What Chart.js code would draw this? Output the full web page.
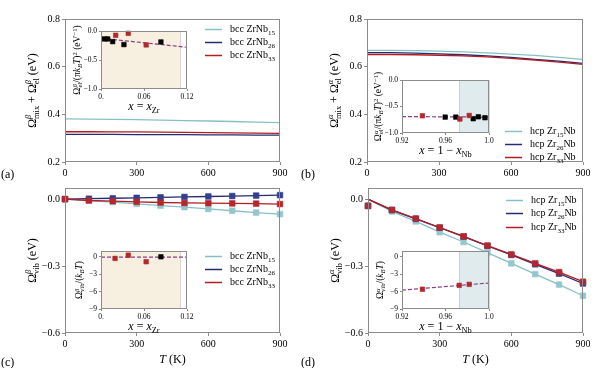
<!DOCTYPE html>
<html>
<head>
<meta charset="utf-8">
<script src="https://cdn.jsdelivr.net/npm/chart.js@4.4.0/dist/chart.umd.min.js"></script>
<style>
  body { margin: 0; background: #fff; width: 600px; height: 368px; position: relative; overflow: hidden; }
  canvas { position: absolute; }
</style>
</head>
<body>
<script>
// Data
const temps = [0, 100, 200, 300, 400, 500, 600, 700, 800, 900];
const tTicks = [0, 300, 600, 900];
const tLabels = ['0', '300', '600', '900'];

// (a) bcc mixing + electronic
const bccMix15 = [0.381, 0.380, 0.379, 0.378, 0.376, 0.374, 0.372, 0.370, 0.367, 0.365];
const bccMix26 = [0.316, 0.316, 0.316, 0.315, 0.315, 0.315, 0.314, 0.314, 0.313, 0.313];
const bccMix33 = [0.327, 0.327, 0.326, 0.326, 0.325, 0.324, 0.323, 0.322, 0.321, 0.320];
// (b) hcp mixing + electronic
const hcpMix15 = [0.668, 0.668, 0.667, 0.665, 0.662, 0.658, 0.653, 0.647, 0.639, 0.631];
const hcpMix26 = [0.659, 0.659, 0.657, 0.654, 0.650, 0.645, 0.639, 0.631, 0.623, 0.614];
const hcpMix33 = [0.651, 0.651, 0.650, 0.648, 0.645, 0.641, 0.635, 0.628, 0.619, 0.610];
const mixTicks = [0.2, 0.4, 0.6, 0.8];
const mixLabels = ['0.2', '0.4', '0.6', '0.8'];
// (c) bcc vibrational
const bccVib15 = [0, -0.006, -0.013, -0.021, -0.029, -0.036, -0.044, -0.052, -0.060, -0.067];
const bccVib26 = [0, 0.002, 0.004, 0.006, 0.008, 0.010, 0.012, 0.014, 0.016, 0.018];
const bccVib33 = [0, -0.006, -0.009, -0.012, -0.015, -0.017, -0.018, -0.019, -0.020, -0.022];
// (d) hcp vibrational: markers and fitted lines
const hcpVib15 = [-0.03, -0.055, -0.100, -0.148, -0.192, -0.240, -0.288, -0.336, -0.383, -0.433];
const hcpVib26 = [-0.03, -0.049, -0.088, -0.128, -0.168, -0.210, -0.250, -0.292, -0.334, -0.378];
const hcpVib33 = [-0.03, -0.048, -0.087, -0.127, -0.167, -0.208, -0.248, -0.288, -0.327, -0.370];
const hcpLine15 = [0, -0.055, -0.100, -0.148, -0.192, -0.240, -0.288, -0.336, -0.383, -0.433];
const hcpLine26 = [0, -0.049, -0.088, -0.128, -0.168, -0.210, -0.250, -0.292, -0.334, -0.378];
const hcpLine33 = [0, -0.048, -0.087, -0.127, -0.167, -0.208, -0.248, -0.288, -0.327, -0.370];
const vibTicks = [0, -0.3, -0.6];
const vibLabels = ['0.0', '\u22120.3', '\u22120.6'];

const bccNames = ['bcc ZrNb_{15}', 'bcc ZrNb_{26}', 'bcc ZrNb_{33}'];
const hcpNames = ['hcp Zr_{15}Nb', 'hcp Zr_{26}Nb', 'hcp Zr_{33}Nb'];

// insets
const zrTicks = [0, 0.06, 0.12];
const zrLabels = ['0.', '0.06', '0.12'];
const nbTicks = [0.92, 0.96, 1.0];
const nbLabels = ['0.92', '0.96', '1.0'];
const elTicks = [0, -0.5, -1.0];
const elLabels = ['0.0', '\u22120.5', '\u22121.0'];
const vibInTicks = [0, -3, -6, -9];
const vibInLabels = ['0', '\u22123', '\u22126', '\u22129'];

const insAblackX = [0.0047, 0.0093, 0.0163, 0.032, 0.0836];
const insAblackY = [-0.137, -0.137, -0.183, -0.234, -0.189];
const insAredX = [0.0205, 0.038, 0.063];
const insAredY = [-0.074, -0.04, -0.24];
const insAfitX = [0, 0.12];
const insAfitY = [-0.126, -0.28];

const insBblackX = [0.9597, 0.9695, 0.9855, 0.9902, 0.9963];
const insBblackY = [-0.70, -0.70, -0.731, -0.694, -0.712];
const insBredX = [0.9388, 0.9732, 0.9818];
const insBredY = [-0.675, -0.737, -0.669];
const insBfitX = [0.92, 1.0];
const insBfitY = [-0.69, -0.70];

const insCblackX = [0.0836];
const insCblackY = [0.0];
const insCredX = [0.0196, 0.038, 0.063];
const insCredY = [-0.28, 0.28, -0.85];
const insCfitX = [0, 0.12];
const insCfitY = [-0.05, -0.05];

const insDblackX = [];
const insDblackY = [];
const insDredX = [0.9388, 0.9726, 0.9818];
const insDredY = [-5.59, -4.92, -4.75];
const insDfitX = [0.92, 1.0];
const insDfitY = [-5.75, -4.52];

// Styles
const SERIF = '"Liberation Serif", "DejaVu Serif", serif';
Chart.defaults.font.family = SERIF;
Chart.defaults.color = '#000';
const GRAY = '#8c8c8c';
const TEAL = '#86c0c6', NAVY = '#262a72', RED = '#b31d22';
const TEAL_M = '#94c6cd', NAVY_M = '#34408f', RED_M = '#b3282d';
const PURPLE = '#8b3d8b';
const WHEAT = '#f7efdf', ICE = '#e0ebee';

function place(x, y, w, h) {
  const c = document.createElement('canvas');
  c.width = w; c.height = h;
  c.style.left = x + 'px'; c.style.top = y + 'px';
  c.style.width = w + 'px'; c.style.height = h + 'px';
  document.body.appendChild(c);
  return c;
}

// tiny math text: ^{..} sup, _{..} sub, *..* italic
function parseMath(s) {
  const runs = [];
  let i = 0, it = false;
  while (i < s.length) {
    const c = s[i];
    if ((c === '^' || c === '_') && s[i + 1] === '{') {
      const end = s.indexOf('}', i);
      const lvl = c === '^' ? 1 : -1;
      s.slice(i + 2, end).split('*').forEach((seg, k) => { if (seg) runs.push({ t: seg, it: k % 2 === 1, lvl }); });
      i = end + 1;
      continue;
    }
    if (c === '*') { it = !it; i++; continue; }
    const last = runs[runs.length - 1];
    if (last && last.lvl === 0 && last.it === it) last.t += c; else runs.push({ t: c, it, lvl: 0 });
    i++;
  }
  return runs;
}

function runMath(ctx, runs, size, x, y, draw) {
  let cx = x, gStart = 0, gEnd = 0, prev = 0;
  for (const r of runs) {
    const sz = r.lvl ? size * 0.7 : size;
    ctx.font = (r.it ? 'italic ' : '') + sz + 'px ' + SERIF;
    if (r.lvl === 0) { if (prev !== 0) cx = gEnd; }
    else if (prev === 0) { gStart = cx; gEnd = cx; }
    else if (prev !== r.lvl) cx = gStart;
    const w = ctx.measureText(r.t).width;
    if (draw) ctx.fillText(r.t, cx, y + (r.lvl > 0 ? -size * 0.38 : r.lvl < 0 ? size * 0.24 : 0));
    cx += w;
    if (r.lvl) gEnd = Math.max(gEnd, cx);
    prev = r.lvl;
  }
  if (prev !== 0) cx = gEnd;
  return cx - x;
}

function drawMath(ctx, s, x, y, size, align, rot) {
  const runs = parseMath(s);
  ctx.save();
  ctx.translate(x, y);
  if (rot) ctx.rotate(rot);
  ctx.fillStyle = '#000'; ctx.textBaseline = 'alphabetic'; ctx.textAlign = 'left';
  const w = runMath(ctx, runs, size, 0, 0, false);
  runMath(ctx, runs, size, align === 'left' ? 0 : -w / 2, size * 0.33, true);
  ctx.restore();
}

function drawLegend(ctx, names, colors, x1, x2, tx, rows) {
  names.forEach((n, i) => {
    ctx.strokeStyle = colors[i]; ctx.lineWidth = 1.5;
    ctx.beginPath(); ctx.moveTo(x1, rows[i] + 0.5); ctx.lineTo(x2, rows[i] + 0.5); ctx.stroke();
    drawMath(ctx, n, tx, rows[i], 10, 'left', 0);
  });
}

function scaleOpts(o) {
  return {
    type: 'linear', min: o.min, max: o.max,
    afterBuildTicks: s => { s.ticks = o.ticks.map(v => ({ value: v })); },
    afterFit: s => {
      if (s.isHorizontal()) { s.height = o.fit; s.paddingLeft = 0; s.paddingRight = 0; }
      else { s.width = o.fit; s.paddingTop = 0; s.paddingBottom = 0; }
    },
    grid: { display: true, drawOnChartArea: false, drawTicks: true, tickLength: o.len, color: GRAY, lineWidth: 1 },
    border: { display: false },
    ticks: { autoSkip: false, maxRotation: 0, padding: o.pad, font: { size: o.size }, color: '#000',
      callback: (v, i) => o.labels[i] }
  };
}

function deco(cfg) {
  return {
    id: 'deco',
    beforeDraw(chart) {
      const { ctx, chartArea: a } = chart;
      ctx.save();
      if (cfg.fill) { ctx.fillStyle = '#fff'; ctx.fillRect(a.left, a.top, a.right - a.left, a.bottom - a.top); }
      if (cfg.shade) {
        const x1 = chart.scales.x.getPixelForValue(cfg.shade[0]);
        const x2 = chart.scales.x.getPixelForValue(cfg.shade[1]);
        ctx.fillStyle = cfg.shadeColor;
        ctx.fillRect(x1, a.top, x2 - x1, a.bottom - a.top);
        ctx.strokeStyle = 'rgba(150,150,150,0.35)'; ctx.lineWidth = 1;
        ctx.beginPath();
        [x1, x2].forEach(px => { ctx.moveTo(Math.round(px) + 0.5, a.top); ctx.lineTo(Math.round(px) + 0.5, a.bottom); });
        ctx.stroke();
      }
      ctx.restore();
    },
    afterDraw(chart) {
      const { ctx, chartArea: a } = chart;
      ctx.save();
      ctx.strokeStyle = GRAY; ctx.lineWidth = 1;
      ctx.strokeRect(Math.round(a.left) + 0.5, Math.round(a.top) + 0.5, Math.round(a.right - a.left) - 1, Math.round(a.bottom - a.top) - 1);
      ctx.translate(-cfg.x0, -cfg.y0);
      if (cfg.draw) cfg.draw(ctx, chart);
      ctx.restore();
    }
  };
}

function line(xs, ys, color, width, dash) {
  return { data: xs.map((x, i) => ({ x, y: ys[i] })), showLine: true, borderColor: color, borderWidth: width,
    borderDash: dash || [], pointRadius: 0, clip: false };
}
function marks(xs, ys, color, r) {
  return { data: xs.map((x, i) => ({ x, y: ys[i] })), showLine: false, pointStyle: 'rect', pointRadius: r,
    pointBackgroundColor: color, pointBorderColor: color, pointBorderWidth: 0.6, clip: false };
}
function lineMarks(ys, color, mcolor) {
  return Object.assign(line(temps, ys, color, 1.3), { pointStyle: 'rect', pointRadius: 4,
    pointBackgroundColor: mcolor, pointBorderColor: mcolor, pointBorderWidth: 0.6 });
}

function mainPanel(p) {
  const cv = place(p.x0, p.y0, 300, 184);
  const a = { l: p.x0 + p.yFit, t: p.y0 + p.padTop, r: p.x0 + 300 - p.padRight, b: p.y0 + 184 - p.xFit };
  return new Chart(cv, {
    type: 'scatter',
    data: { datasets: p.datasets },
    options: {
      responsive: false, animation: false,
      layout: { autoPadding: false, padding: { left: 0, top: p.padTop, right: p.padRight, bottom: 0 } },
      plugins: { legend: { display: false }, tooltip: { enabled: false } },
      scales: {
        x: scaleOpts({ min: 0, max: 900, ticks: tTicks, labels: tLabels, size: 10, len: 3, pad: 2, fit: p.xFit }),
        y: scaleOpts({ min: p.yMin, max: p.yMax, ticks: p.yTicks, labels: p.yLabels, size: 10, len: 3, pad: 2, fit: p.yFit })
      }
    },
    plugins: [deco({ x0: p.x0, y0: p.y0, draw: ctx => {
      drawMath(ctx, p.yTitle, a.l - 33, (a.t + a.b) / 2, 12, 'center', -Math.PI / 2);
      if (p.xTitle) drawMath(ctx, p.xTitle, (a.l + a.r) / 2, 359, 12, 'center', 0);
      drawMath(ctx, p.tag, p.x0 + 1, p.tagY, 12, 'left', 0);
      drawLegend(ctx, p.names, [TEAL, NAVY, RED], p.leg[0], p.leg[0] + 17, p.leg[0] + 25, p.leg[1]);
    } })]
  });
}

function insetPanel(p) {
  const x0 = p.l - 36, y0 = p.t - 14;
  const cv = place(x0, y0, p.r + 8 - x0, p.b + 26 - y0);
  return new Chart(cv, {
    type: 'scatter',
    data: { datasets: [
      marks(p.redX, p.redY, RED_M, 3.2),
      marks(p.blackX, p.blackY, '#000', 3.2),
      line(p.fitX, p.fitY, PURPLE, 1.2, [4, 2])
    ] },
    options: {
      responsive: false, animation: false,
      layout: { autoPadding: false, padding: { left: 0, top: 14, right: 8, bottom: 0 } },
      plugins: { legend: { display: false }, tooltip: { enabled: false } },
      scales: {
        x: scaleOpts({ min: p.xTicks[0], max: p.xTicks[2], ticks: p.xTicks, labels: p.xLabels, size: 7.5, len: 2, pad: 2, fit: 26 }),
        y: scaleOpts({ min: p.yMin, max: p.yMax, ticks: p.yTicks, labels: p.yLabels, size: 7.5, len: 2, pad: 2, fit: 36 })
      }
    },
    plugins: [deco({ x0, y0, fill: true, shade: p.shade, shadeColor: p.shadeColor, draw: ctx => {
      drawMath(ctx, p.yTitle, p.l - p.yTitleGap, (p.t + p.b) / 2, 9.5, 'center', -Math.PI / 2);
      drawMath(ctx, p.xTitle, (p.l + p.r) / 2, p.b + 17, 12, 'center', 0);
    } })]
  });
}

// main panels
mainPanel({ x0: 0, y0: 0, padTop: 19, padRight: 20, yFit: 65, xFit: 22,
  yMin: 0.2, yMax: 0.8, yTicks: mixTicks, yLabels: mixLabels,
  yTitle: '\u03A9^{*\u03B2*}_{mix} + \u03A9^{*\u03B2*}_{el} (eV)', tag: '(a)', tagY: 174,
  names: bccNames, leg: [205, [29, 42, 55]],
  datasets: [line(temps, bccMix33, RED, 1.3), line(temps, bccMix26, NAVY, 1.3), line(temps, bccMix15, TEAL, 1.3)] });

mainPanel({ x0: 300, y0: 0, padTop: 19, padRight: 17, yFit: 67, xFit: 22,
  yMin: 0.2, yMax: 0.8, yTicks: mixTicks, yLabels: mixLabels,
  yTitle: '\u03A9^{*\u03B1*}_{mix} + \u03A9^{*\u03B1*}_{el} (eV)', tag: '(b)', tagY: 174,
  names: hcpNames, leg: [505, [131, 144, 157]],
  datasets: [line(temps, hcpMix33, RED, 1.3), line(temps, hcpMix26, NAVY, 1.3), line(temps, hcpMix15, TEAL, 1.3)] });

mainPanel({ x0: 0, y0: 184, padTop: 4, padRight: 20, yFit: 65, xFit: 35,
  yMin: -0.6, yMax: 0.05, yTicks: vibTicks, yLabels: vibLabels,
  yTitle: '\u03A9^{*\u03B2*}_{vib} (eV)', xTitle: '*T* (K)', tag: '(c)', tagY: 362,
  names: bccNames, leg: [205, [256, 269, 282]],
  datasets: [lineMarks(bccVib33, RED, RED_M), lineMarks(bccVib26, NAVY, NAVY_M), lineMarks(bccVib15, TEAL, TEAL_M)] });

mainPanel({ x0: 300, y0: 184, padTop: 4, padRight: 17, yFit: 68, xFit: 35,
  yMin: -0.6, yMax: 0.05, yTicks: vibTicks, yLabels: vibLabels,
  yTitle: '\u03A9^{*\u03B1*}_{vib} (eV)', xTitle: '*T* (K)', tag: '(d)', tagY: 362,
  names: hcpNames, leg: [506, [200, 213, 227]],
  datasets: [
    marks(temps, hcpVib33, RED_M, 4), line(temps, hcpLine33, RED, 1.3),
    marks(temps, hcpVib26, NAVY_M, 4), line(temps, hcpLine26, NAVY, 1.3),
    marks(temps, hcpVib15, TEAL_M, 4), line(temps, hcpLine15, TEAL, 1.3)
  ] });

// insets
const elTitleB = '\u03A9^{*\u03B2*}_{el}/(\u03C0*k*_{*B*}*T*)^{2} (eV^{\u22121})';
const elTitleA = '\u03A9^{*\u03B1*}_{el}/(\u03C0*k*_{*B*}*T*)^{2} (eV^{\u22121})';
insetPanel({ l: 101, t: 31, r: 187, b: 89, xTicks: zrTicks, xLabels: zrLabels,
  yMin: -1, yMax: 0, yTicks: elTicks, yLabels: elLabels, shade: [0, 0.1106], shadeColor: WHEAT,
  yTitle: elTitleB, yTitleGap: 24, xTitle: '*x* = *x*_{Zr}',
  redX: insAredX, redY: insAredY, blackX: insAblackX, blackY: insAblackY, fitX: insAfitX, fitY: insAfitY });

insetPanel({ l: 402, t: 80, r: 489, b: 133, xTicks: nbTicks, xLabels: nbLabels,
  yMin: -1, yMax: 0, yTicks: elTicks, yLabels: elLabels, shade: [0.9726, 1.0], shadeColor: ICE,
  yTitle: elTitleA, yTitleGap: 24, xTitle: '*x* = 1 \u2212 *x*_{Nb}',
  redX: insBredX, redY: insBredY, blackX: insBblackX, blackY: insBblackY, fitX: insBfitX, fitY: insBfitY });

insetPanel({ l: 101, t: 251, r: 187, b: 309, xTicks: zrTicks, xLabels: zrLabels,
  yMin: -9, yMax: 1, yTicks: vibInTicks, yLabels: vibInLabels, shade: [0, 0.1106], shadeColor: WHEAT,
  yTitle: '\u03A9^{*\u03B2*}_{vib}/(*k*_{*B*}*T*)', yTitleGap: 22, xTitle: '*x* = *x*_{Zr}',
  redX: insCredX, redY: insCredY, blackX: insCblackX, blackY: insCblackY, fitX: insCfitX, fitY: insCfitY });

insetPanel({ l: 402, t: 251, r: 489, b: 309, xTicks: nbTicks, xLabels: nbLabels,
  yMin: -9, yMax: 1, yTicks: vibInTicks, yLabels: vibInLabels, shade: [0.9726, 1.0], shadeColor: ICE,
  yTitle: '\u03A9^{*\u03B1*}_{vib}/(*k*_{*B*}*T*)', yTitleGap: 22, xTitle: '*x* = 1 \u2212 *x*_{Nb}',
  redX: insDredX, redY: insDredY, blackX: insDblackX, blackY: insDblackY, fitX: insDfitX, fitY: insDfitY });
</script>
</body>
</html>
